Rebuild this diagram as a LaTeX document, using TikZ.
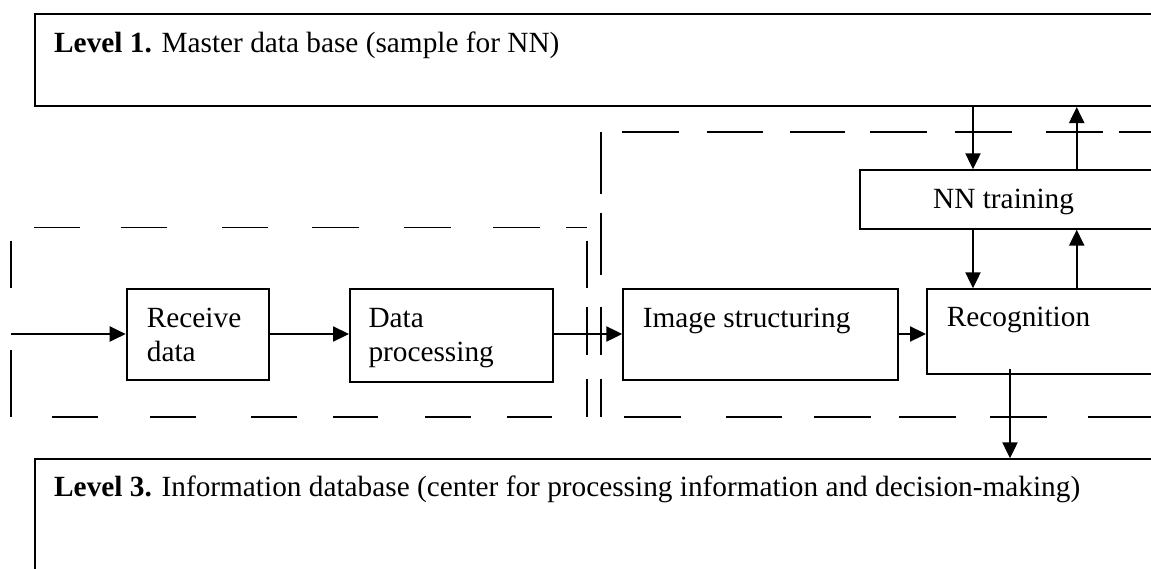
\documentclass[tikz,border=0pt]{standalone}
\usepackage{fontspec}
\setmainfont{Liberation Serif}
\usetikzlibrary{arrows.meta}
\begin{document}
\begin{tikzpicture}[x=1pt,y=-1pt,
  box/.style={draw, line width=2pt, rectangle, inner sep=0pt, anchor=north west},
  txt/.style={inner sep=0pt, anchor=base west, font=\fontsize{29.3}{34}\selectfont},
  arr/.style={line width=2.2pt, -{Triangle[length=16pt,width=15pt]}},
  dsh/.style={line width=1.9pt}]
\useasboundingbox (0,0) rectangle (1151,568);
\clip (0,0) rectangle (1151,568);
% boxes
\node[box, minimum width=1140pt, minimum height=92pt] (lvl1) at (34,13) {};
\node[box, minimum width=1140pt, minimum height=140pt] (lvl3) at (33.7,458.3) {};
\node[box, minimum width=320pt, minimum height=58.4pt] (nn) at (859.3,169.3) {};
\node[box, minimum width=142.6pt, minimum height=91pt] (recv) at (125.7,288.3) {};
\node[box, minimum width=202.7pt, minimum height=92.4pt] (dp) at (349,288.3) {};
\node[box, minimum width=275pt, minimum height=91pt] (img) at (622.3,288.3) {};
\node[box, minimum width=260pt, minimum height=84.4pt] (rec) at (926,288.3) {};
% texts
\node[txt] (t1) at (54,52) {\textbf{Level 1.} Master data base (sample for NN)};
\node[txt] (t3) at (54,496.7) {\textbf{Level 3.} Information database (center for processing information and decision-making)};
\node[txt] (tnn) at (933,208.3) {NN training};
\node[txt] (trA) at (146.7,327.3) {Receive};
\node[txt] (trB) at (146.7,361.7) {data};
\node[txt] (tdA) at (368.3,327.3) {Data};
\node[txt] (tdB) at (368.3,361.7) {processing};
\node[txt] (timg) at (642.7,327.3) {Image structuring};
\node[txt] (trec) at (946.7,326.7) {Recognition};
% dashed group borders
\foreach \a/\b in {622/679,707/763,790/845,870/927,955/1012,1046/1103,1119/1160}
  \draw[dsh] (\a,131.7) -- (\b,131.7);
\foreach \a/\b in {624/681,726/782,814/871,899/956,990/1047,1088/1160}
  \draw[dsh] (\a,416.7) -- (\b,416.7);
\foreach \a/\b in {34/80,121/167,222/268,312/359,404/451,493/540,566/587}
  \draw[dsh] (\a,227.5) -- (\b,227.5);
\foreach \a/\b in {52/98,150/196,251/297,333/378,425/471,507/552}
  \draw[dsh] (\a,416.7) -- (\b,416.7);
\foreach \a/\b in {240.7/288.3,350/416.7}
  \draw[dsh] (11,\a) -- (11,\b);
\foreach \a/\b in {240.7/288.3,307.3/355,379.3/416.7}
  \draw[dsh] (586.7,\a) -- (586.7,\b);
\foreach \a/\b in {132/194,212.7/275,307.3/355,379.3/416.7}
  \draw[dsh] (600.7,\a) -- (600.7,\b);
% connectors
\coordinate (yA) at (0,334);
\coordinate (inL) at (11,334);
\coordinate (xA) at (973,0);
\coordinate (xB) at (1076.7,0);
\coordinate (xC) at (1010,0);
\path (rec.south -| xC) ++(0,-6) coordinate (recB);
\draw[arr] (inL) -- (inL -| recv.west);
\draw[arr] (recv.east |- yA) -- (dp.west |- yA);
\draw[arr] (dp.east |- yA) -- (img.west |- yA);
\draw[arr] (img.east |- yA) -- (rec.west |- yA);
\draw[arr] (lvl1.south -| xA) -- (nn.north -| xA);
\draw[arr] (nn.north -| xB) -- (lvl1.south -| xB);
\draw[arr] (nn.south -| xA) -- (rec.north -| xA);
\draw[arr] (rec.north -| xB) -- (nn.south -| xB);
\draw[arr] (recB) -- (lvl3.north -| xC);
\end{tikzpicture}
\end{document}
